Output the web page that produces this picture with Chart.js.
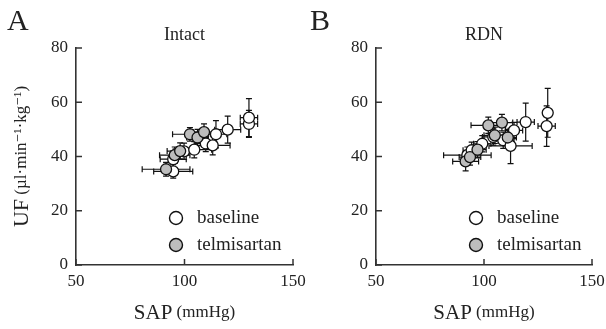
<!DOCTYPE html>
<html>
<head>
<meta charset="utf-8">
<script src="https://cdn.jsdelivr.net/npm/chart.js@4/dist/chart.umd.min.js"></script>
<style>
  body { margin: 0; background: #fff; }
  #wrap { position: relative; width: 606px; height: 329px; overflow: hidden; }
  canvas { position: absolute; top: 0; }
</style>
</head>
<body>
<div id="wrap">
  <canvas id="panelA" width="320" height="329" style="left:0"></canvas>
  <canvas id="panelB" width="303" height="329" style="left:303px"></canvas>
</div>
<script>
// --- datos (SAP en mmHg, UF en µl/min/kg) ---
const xTicks = [50, 100, 150];
const yTicks = [0, 20, 40, 60, 80];
const seriesNames = ['baseline', 'telmisartan'];

// Panel A: Intact
const intactBaseX    = [94.8, 94.8, 99.8, 104.5, 109.8, 113.0, 114.5, 119.9, 129.7, 129.7];
const intactBaseY    = [34.5, 39.0, 41.9, 42.5, 44.8, 44.1, 48.2, 49.9, 52.0, 54.3];
const intactBaseXErr = [9, 6, 5, 8, 5, 8, 5, 6, 4, 4];
const intactBaseYErr = [2.5, 3, 3, 3, 3, 3.5, 5, 5, 5, 7];

const intactTelX    = [91.5, 95.5, 98.0, 102.5, 106.0, 109.0];
const intactTelY    = [35.3, 40.5, 42.0, 48.2, 47.0, 49.0];
const intactTelXErr = [11, 7, 6, 8, 5, 5];
const intactTelYErr = [2.5, 3, 3, 2.5, 3, 3];

// Panel B: RDN
const rdnBaseX    = [92.3, 94.3, 99.2, 104.3, 108.9, 112.3, 113.9, 119.3, 129.0, 129.5];
const rdnBaseY    = [40.5, 42.3, 44.7, 47.2, 46.0, 43.9, 49.6, 52.7, 51.2, 56.1];
const rdnBaseXErr = [11, 4, 4, 5, 5, 10, 4, 4, 4, 2];
const rdnBaseYErr = [3, 3, 3, 3, 3, 6.5, 3, 7, 7.5, 9];

const rdnTelX    = [91.5, 93.5, 97.0, 102.0, 105.0, 108.3, 111.0];
const rdnTelY    = [38.2, 39.8, 42.5, 51.5, 47.8, 52.5, 47.0];
const rdnTelXErr = [6, 5, 4, 8, 5, 5, 4];
const rdnTelYErr = [3.5, 3, 3, 3, 3, 3, 3];

const SERIF = '"Liberation Serif", "DejaVu Serif", serif';
const INK = '#222';

function toPoints(xs, ys, xe, ye) {
    return xs.map((x, i) => ({ x: x, y: ys[i], xErr: xe[i], yErr: ye[i] }));
}

/**
 * Barras de error, marcas internas de los ejes y textos del panel
 */
const panelPlugin = {
    id: 'panelExtras',
    beforeDatasetsDraw(chart) {
        const ctx = chart.ctx;
        const { x: sx, y: sy } = chart.scales;
        const area = chart.chartArea;
        ctx.save();

        // ticks hacia adentro
        ctx.strokeStyle = '#333';
        ctx.lineWidth = 1.5;
        sx.ticks.forEach(t => {
            const px = sx.getPixelForValue(t.value);
            ctx.beginPath(); ctx.moveTo(px, area.bottom); ctx.lineTo(px, area.bottom - 6); ctx.stroke();
        });
        sy.ticks.forEach(t => {
            const py = sy.getPixelForValue(t.value);
            ctx.beginPath(); ctx.moveTo(area.left, py); ctx.lineTo(area.left + 6, py); ctx.stroke();
        });

        // barras de error
        ctx.strokeStyle = '#111';
        ctx.lineWidth = 1.2;
        const cap = 3;
        chart.data.datasets.forEach(ds => {
            ds.data.forEach(p => {
                const cx = sx.getPixelForValue(p.x), cy = sy.getPixelForValue(p.y);
                const x0 = sx.getPixelForValue(p.x - p.xErr), x1 = sx.getPixelForValue(p.x + p.xErr);
                const y0 = sy.getPixelForValue(p.y - p.yErr), y1 = sy.getPixelForValue(p.y + p.yErr);
                ctx.beginPath();
                ctx.moveTo(x0, cy); ctx.lineTo(x1, cy);
                ctx.moveTo(x0, cy - cap); ctx.lineTo(x0, cy + cap);
                ctx.moveTo(x1, cy - cap); ctx.lineTo(x1, cy + cap);
                ctx.moveTo(cx, y0); ctx.lineTo(cx, y1);
                ctx.moveTo(cx - cap, y0); ctx.lineTo(cx + cap, y0);
                ctx.moveTo(cx - cap, y1); ctx.lineTo(cx + cap, y1);
                ctx.stroke();
            });
        });
        ctx.restore();
    },
    afterDraw(chart, args, opts) {
        const ctx = chart.ctx;
        const area = chart.chartArea;
        const midX = (area.left + area.right) / 2;
        ctx.save();
        ctx.fillStyle = INK;
        ctx.textBaseline = 'middle';

        // letra del panel y título
        ctx.font = `30px ${SERIF}`;
        ctx.textAlign = 'left';
        ctx.fillText(opts.letter, 7, 22);
        ctx.font = `18px ${SERIF}`;
        ctx.textAlign = 'center';
        ctx.fillText(opts.title, midX, 35);

        // título del eje x con tamaños mixtos
        drawMixed(ctx, [['SAP', 21], [' (mmHg)', 17]], midX, 313);

        // título del eje y (solo panel A)
        if (opts.yTitle) {
            ctx.save();
            ctx.translate(22, (area.top + area.bottom) / 2);
            ctx.rotate(-Math.PI / 2);
            drawMixed(ctx, [['UF', 22], [' (\u00b5l\u00b7min\u207b\u00b9\u00b7kg\u207b\u00b9)', 17]], 0, 0);
            ctx.restore();
        }

        // leyenda dentro del área: baseline arriba, telmisartan abajo
        seriesNames.forEach((name, i) => {
            const ds = chart.data.datasets.find(d => d.label === name);
            const lx = area.left + 100;
            const ly = area.bottom - 47 + i * 27;
            ctx.beginPath();
            ctx.arc(lx, ly, 6.5, 0, Math.PI * 2);
            ctx.fillStyle = ds.backgroundColor;
            ctx.fill();
            ctx.lineWidth = 1.4;
            ctx.strokeStyle = '#111';
            ctx.stroke();
            ctx.fillStyle = INK;
            ctx.font = `19px ${SERIF}`;
            ctx.textAlign = 'left';
            ctx.fillText(ds.label, lx + 21, ly);
        });
        ctx.restore();
    }
};

function drawMixed(ctx, parts, cx, cy) {
    let total = 0;
    parts.forEach(([t, s]) => { ctx.font = `${s}px ${SERIF}`; total += ctx.measureText(t).width; });
    let x = cx - total / 2;
    ctx.textAlign = 'left';
    parts.forEach(([t, s]) => {
        ctx.font = `${s}px ${SERIF}`;
        ctx.fillText(t, x, cy);
        x += ctx.measureText(t).width;
    });
}

function crearPanel(canvasId, cfg) {
    return new Chart(document.getElementById(canvasId), {
        type: 'scatter',
        data: {
            datasets: [
                {
                    label: seriesNames[1],
                    data: toPoints(cfg.telX, cfg.telY, cfg.telXErr, cfg.telYErr),
                    backgroundColor: '#bdbdbd',
                    borderColor: '#111',
                    borderWidth: 1.3,
                    pointRadius: 5.5
                },
                {
                    label: seriesNames[0],
                    data: toPoints(cfg.baseX, cfg.baseY, cfg.baseXErr, cfg.baseYErr),
                    backgroundColor: '#ffffff',
                    borderColor: '#111',
                    borderWidth: 1.3,
                    pointRadius: 5.5
                }
            ]
        },
        options: {
            responsive: false,
            animation: false,
            layout: { padding: { top: 48, right: 0, bottom: 0, left: 0 } },
            plugins: {
                legend: { display: false },
                tooltip: { enabled: false },
                panelExtras: { letter: cfg.letter, title: cfg.title, yTitle: cfg.yTitle }
            },
            scales: {
                x: {
                    type: 'linear', min: 50, max: 150,
                    afterBuildTicks: s => { s.ticks = xTicks.map(v => ({ value: v })); },
                    afterFit: s => { s.height = 64; s.paddingRight = cfg.padRight; s.paddingLeft = 0; },
                    grid: { display: true, drawOnChartArea: false, drawTicks: false },
                    border: { color: '#333', width: 1.6 },
                    ticks: { color: INK, padding: 6, font: { family: SERIF, size: 17 } }
                },
                y: {
                    type: 'linear', min: 0, max: 80,
                    afterBuildTicks: s => { s.ticks = yTicks.map(v => ({ value: v })); },
                    afterFit: s => { s.width = cfg.yWidth; s.paddingTop = 0; s.paddingBottom = 0; },
                    grid: { display: true, drawOnChartArea: false, drawTicks: false },
                    border: { color: '#333', width: 1.6 },
                    ticks: { color: INK, padding: 8, font: { family: SERIF, size: 17 } }
                }
            }
        },
        plugins: [panelPlugin]
    });
}

// el lienzo A es más ancho (transparente) para que la etiqueta 150 no se corte
crearPanel('panelA', {
    letter: 'A', title: 'Intact', yTitle: true, yWidth: 76, padRight: 27,
    baseX: intactBaseX, baseY: intactBaseY, baseXErr: intactBaseXErr, baseYErr: intactBaseYErr,
    telX: intactTelX, telY: intactTelY, telXErr: intactTelXErr, telYErr: intactTelYErr
});

crearPanel('panelB', {
    letter: 'B', title: 'RDN', yTitle: false, yWidth: 73, padRight: 14,
    baseX: rdnBaseX, baseY: rdnBaseY, baseXErr: rdnBaseXErr, baseYErr: rdnBaseYErr,
    telX: rdnTelX, telY: rdnTelY, telXErr: rdnTelXErr, telYErr: rdnTelYErr
});
</script>
</body>
</html>
